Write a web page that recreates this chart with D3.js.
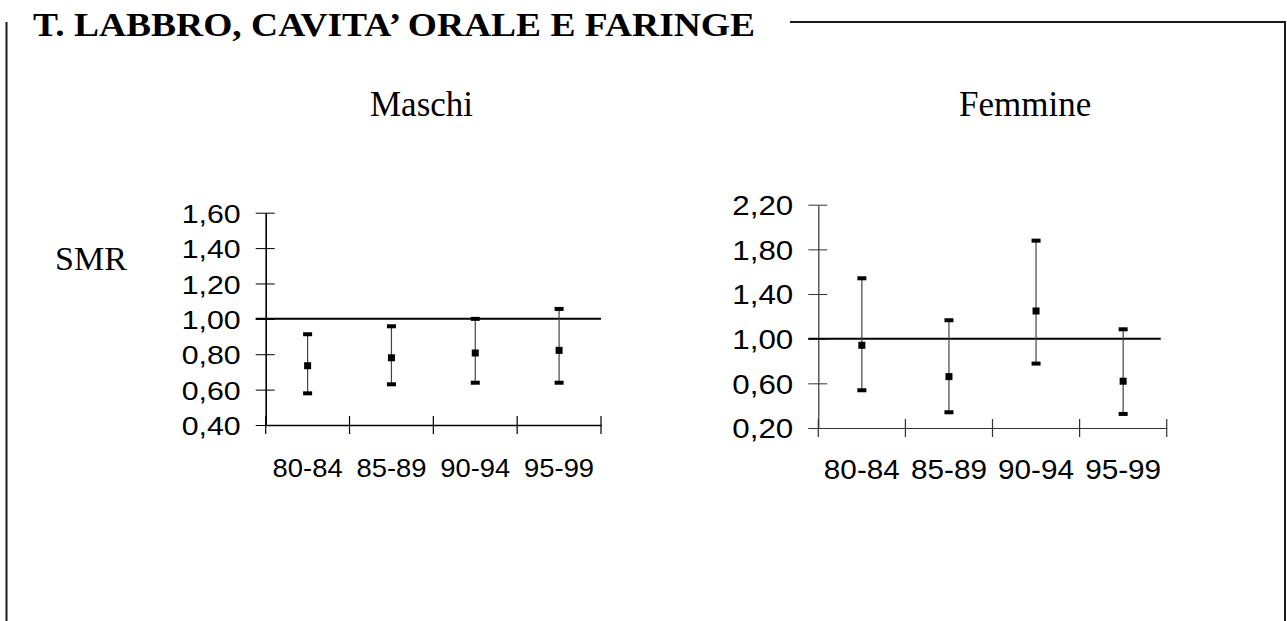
<!DOCTYPE html>
<html>
<head>
<meta charset="utf-8">
<script src="https://cdn.jsdelivr.net/npm/d3@7"></script>
<style>
  html, body { margin: 0; padding: 0; background: #fff; }
  svg { display: block; }
</style>
</head>
<body>
<svg id="chart" width="1287" height="621"></svg>
<script>
// Periods and SMR estimates with 95% confidence limits
const periods = ["80-84", "85-89", "90-94", "95-99"];

const maleSMR  = [0.735, 0.780, 0.807, 0.822];
const maleLow  = [0.579, 0.630, 0.639, 0.639];
const maleHigh = [0.913, 0.958, 1.000, 1.056];

const femaleSMR  = [0.941, 0.660, 1.248, 0.619];
const femaleLow  = [0.538, 0.341, 0.777, 0.326];
const femaleHigh = [1.541, 1.165, 1.878, 1.084];

const maleTicks   = [0.40, 0.60, 0.80, 1.00, 1.20, 1.40, 1.60];
const femaleTicks = [0.20, 0.60, 1.00, 1.40, 1.80, 2.20];

const titleText = "T. LABBRO, CAVITA\u2019 ORALE E FARINGE";
const refValue = 1.0;

const itLocale = d3.formatLocale({ decimal: ",", thousands: ".", grouping: [3], currency: ["", " €"] });
const fmt = itLocale.format(".2f");

const svg = d3.select("#chart");
const serif = "'Liberation Serif', 'Times New Roman', serif";
const sans = "'Liberation Sans', Arial, sans-serif";

// Outer frame, broken at the top by the title
const frame = svg.append("g").attr("stroke", "#1a1a1a").attr("stroke-width", 2).attr("fill", "none");
frame.append("path").attr("d", "M6.5,22 V621");
frame.append("path").attr("d", "M790,22 H1285 V621");

svg.append("text")
  .attr("x", 33).attr("y", 36)
  .attr("font-family", serif).attr("font-weight", "bold").attr("font-size", 34)
  .attr("textLength", 722).attr("lengthAdjust", "spacingAndGlyphs")
  .attr("fill", "#000")
  .text(titleText);

svg.append("text")
  .attr("x", 55).attr("y", 270)
  .attr("font-family", serif).attr("font-size", 34)
  .attr("fill", "#000")
  .text("SMR");

function panel(cfg) {
  const x = d3.scaleBand().domain(periods).range([cfg.x0, cfg.x1]);
  const y = d3.scaleLinear().domain(cfg.domain).range([cfg.yBottom, cfg.yTop]);
  const g = svg.append("g");

  // panel heading
  svg.append("text")
    .attr("x", cfg.headX).attr("y", 116)
    .attr("font-family", serif).attr("font-size", 35)
    .attr("fill", "#000")
    .text(cfg.heading);

  // y axis with ticks crossing the axis line
  const yAxis = g.append("g")
    .attr("transform", `translate(${cfg.x0},0)`)
    .call(d3.axisLeft(y).tickValues(cfg.ticks).tickFormat(fmt).tickSizeOuter(0));
  yAxis.select(".domain").attr("stroke", cfg.axisColor).attr("stroke-width", cfg.axisWidth);
  yAxis.selectAll(".tick line").attr("x1", -10).attr("x2", 9).attr("stroke", cfg.axisColor).attr("stroke-width", 1);
  yAxis.selectAll(".tick text")
    .attr("x", -25).attr("dy", "0.36em")
    .attr("font-family", sans).attr("font-size", cfg.fontSize)
    .attr("textLength", cfg.yLabelLen).attr("lengthAdjust", "spacingAndGlyphs")
    .attr("fill", "#000");

  // x axis: labels centred in each band, ticks on band boundaries
  const xAxis = g.append("g")
    .attr("transform", `translate(0,${cfg.yBottom})`)
    .call(d3.axisBottom(x).tickSize(0).tickSizeOuter(0));
  xAxis.select(".domain").attr("stroke", cfg.axisColor).attr("stroke-width", cfg.axisWidth);
  xAxis.selectAll(".tick text")
    .attr("y", cfg.xLabelY).attr("dy", null)
    .attr("font-family", sans).attr("font-size", cfg.fontSize)
    .attr("textLength", cfg.xLabelLen).attr("lengthAdjust", "spacingAndGlyphs")
    .attr("fill", "#000");

  const bounds = periods.map(p => x(p)).concat([x(periods[periods.length - 1]) + x.bandwidth()]);
  g.append("g").selectAll("line").data(bounds).join("line")
    .attr("x1", d => d).attr("x2", d => d)
    .attr("y1", cfg.yBottom - 9).attr("y2", cfg.yBottom + 9)
    .attr("stroke", cfg.axisColor).attr("stroke-width", 1.2);

  // reference line at SMR = 1
  g.append("line")
    .attr("x1", cfg.x0 - 10).attr("x2", cfg.refEnd)
    .attr("y1", y(refValue)).attr("y2", y(refValue))
    .attr("stroke", "#000").attr("stroke-width", 2);

  const cx = i => x(periods[i]) + x.bandwidth() / 2;
  const idx = d3.range(periods.length);

  // confidence interval whiskers
  g.append("g").selectAll("line").data(idx).join("line")
    .attr("x1", cx).attr("x2", cx)
    .attr("y1", i => y(cfg.low[i])).attr("y2", i => y(cfg.high[i]))
    .attr("stroke", "#444").attr("stroke-width", 1.2);

  const capW = 9, capH = 4;
  g.append("g").selectAll("rect").data(idx.flatMap(i => [[i, cfg.low[i]], [i, cfg.high[i]]])).join("rect")
    .attr("x", d => cx(d[0]) - capW / 2).attr("y", d => y(d[1]) - capH / 2)
    .attr("width", capW).attr("height", capH)
    .attr("fill", "#000");

  const m = 7;
  g.append("g").selectAll("rect").data(idx).join("rect")
    .attr("x", i => cx(i) - m / 2).attr("y", i => y(cfg.smr[i]) - m / 2)
    .attr("width", m).attr("height", m)
    .attr("fill", "#000");
}

panel({
  heading: "Maschi", headX: 370,
  x0: 265.7, x1: 601, yTop: 212.7, yBottom: 425,
  domain: [0.4, 1.6], ticks: maleTicks,
  smr: maleSMR, low: maleLow, high: maleHigh,
  axisColor: "#000", axisWidth: 1.6, refEnd: 601,
  fontSize: 26.5, yLabelLen: 59, xLabelLen: 70, xLabelY: 51.5
});

panel({
  heading: "Femmine", headX: 959,
  x0: 818.3, x1: 1166.7, yTop: 204.7, yBottom: 428,
  domain: [0.2, 2.2], ticks: femaleTicks,
  smr: femaleSMR, low: femaleLow, high: femaleHigh,
  axisColor: "#333", axisWidth: 1.2, refEnd: 1160.7,
  fontSize: 27.5, yLabelLen: 61, xLabelLen: 76, xLabelY: 51
});
</script>
</body>
</html>
